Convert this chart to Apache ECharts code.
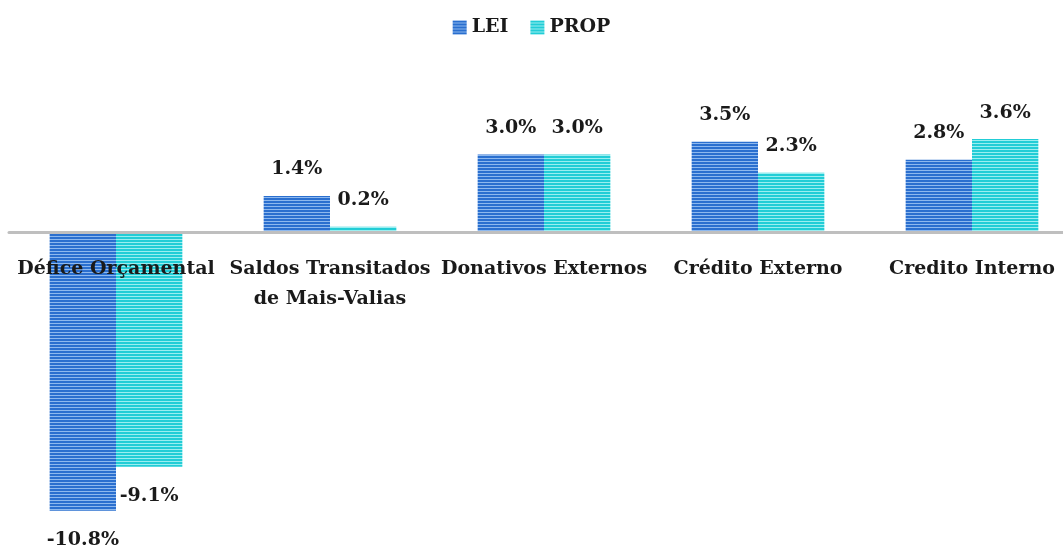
<!DOCTYPE html>
<html>
<head>
<meta charset="utf-8">
<script src="https://cdn.jsdelivr.net/npm/echarts@6/dist/echarts.min.js"></script>
<style>
  html, body { margin: 0; padding: 0; background: #fff; }
  #chart { width: 1063px; height: 548px; }
</style>
</head>
<body>
<div id="chart"></div>
<script>
  // 数据
  const categories = ['Défice Orçamental', 'Saldos Transitados\nde Mais-Valias', 'Donativos Externos', 'Crédito Externo', 'Credito Interno']
  const leiValues = [-10.8, 1.4, 3.0, 3.5, 2.8]
  const propValues = [-9.1, 0.2, 3.0, 2.3, 3.6]

  const FONT = '"DejaVu Serif", "Liberation Serif", serif'
  const Y_MIN = -12
  const Y_MAX = 5
  const PX_PER = 25.8

  // 条纹填充
  const stripes = (base, light) => {
    const c = document.createElement('canvas')
    c.width = 4
    c.height = 3
    const ctx = c.getContext('2d')
    ctx.fillStyle = base
    ctx.fillRect(0, 0, 4, 3)
    ctx.fillStyle = light
    ctx.fillRect(0, 2, 4, 1)
    return { image: c, repeat: 'repeat' }
  }

  const leiColor = stripes('#2a6fcf', '#8db8ee')
  const propColor = stripes('#22cdd6', '#9aeef0')

  const labelStyle = {
    show: true,
    fontFamily: FONT,
    fontWeight: 'bold',
    fontSize: 19,
    color: '#1a1a1a',
    formatter: p => p.value.toFixed(1) + '%'
  }

  const makeLabel = vals => vals.map(v => ({
    value: v,
    label: { position: v < 0 ? 'bottom' : 'top', distance: v < 0 ? 20 : 17 }
  }))

  const chart = echarts.init(document.getElementById('chart'))
  chart.setOption({
    animation: false,
    legend: {
      top: 13,
      left: 'center',
      icon: 'rect',
      itemWidth: 14,
      itemHeight: 14,
      itemGap: 22,
      textStyle: { fontFamily: FONT, fontWeight: 'bold', fontSize: 19, color: '#1a1a1a' },
      data: [
        { name: 'LEI', itemStyle: { color: leiColor } },
        { name: 'PROP', itemStyle: { color: propColor } }
      ]
    },
    grid: {
      left: 9,
      top: 103,
      width: 1070,
      height: (Y_MAX - Y_MIN) * PX_PER,
      outerBoundsMode: 'none'
    },
    xAxis: {
      type: 'category',
      data: categories,
      position: 'bottom',
      offset: Y_MIN * PX_PER,
      axisLine: { onZero: false, lineStyle: { color: '#bfbfbf', width: 3 } },
      axisTick: { show: false },
      axisLabel: {
        interval: 0,
        margin: 22,
        fontFamily: FONT,
        fontWeight: 'bold',
        fontSize: 19,
        lineHeight: 30,
        color: '#1a1a1a'
      },
      z: 10
    },
    yAxis: {
      type: 'value',
      min: Y_MIN,
      max: Y_MAX,
      show: false,
      splitLine: { show: false }
    },
    series: [
      {
        name: 'LEI',
        type: 'bar',
        barGap: 0,
        barCategoryGap: '38%',
        data: makeLabel(leiValues),
        itemStyle: { color: leiColor },
        label: labelStyle
      },
      {
        name: 'PROP',
        type: 'bar',
        data: makeLabel(propValues),
        itemStyle: { color: propColor },
        label: labelStyle
      }
    ]
  })
</script>
</body>
</html>
